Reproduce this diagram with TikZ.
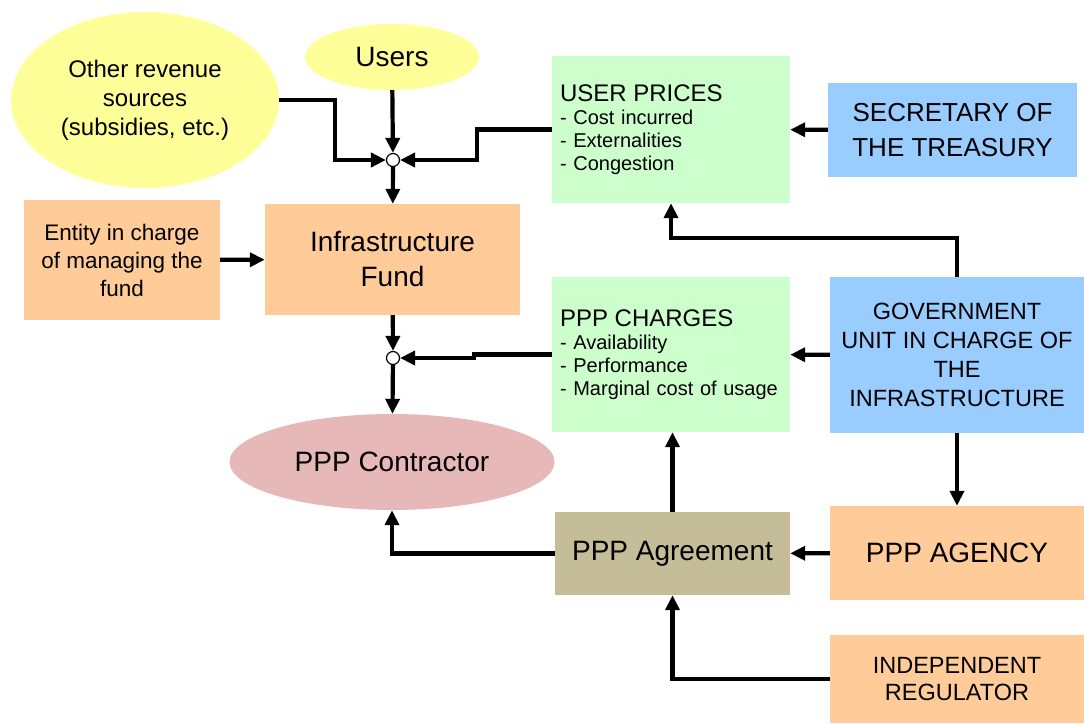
\documentclass[tikz,border=0pt]{standalone}
\usepackage{fontspec}
\setmainfont{Liberation Sans}
\usetikzlibrary{shapes.geometric,arrows.meta}
\definecolor{lemon}{HTML}{FFFF99}
\definecolor{peach}{HTML}{FFCC99}
\definecolor{mint}{HTML}{CCFFCC}
\definecolor{sky}{HTML}{99CCFF}
\definecolor{rose}{HTML}{E6B9B8}
\definecolor{khaki}{HTML}{C4BD97}
\newcommand{\txtbig}{\fontsize{28}{35}\selectfont}
\newcommand{\txtmid}{\fontsize{23.5}{29}\selectfont}
\newcommand{\txtlist}{\fontsize{20}{23}\selectfont}
\tikzset{
 box/.style={shape=rectangle,inner sep=0pt,align=center},
 oval/.style={shape=ellipse,inner sep=0pt,align=center},
 link/.style={-{Triangle[length=15pt,width=14pt]},line width=4.2pt},
 joint/.style={shape=circle,draw,fill=white,line width=1.2pt,minimum size=13pt,inner sep=0pt}
}
\begin{document}
\begin{tikzpicture}[x=1pt,y=-1pt]
\useasboundingbox (0,0) rectangle (1084,723);
\node[oval,fill=lemon,minimum width=268pt,minimum height=176pt,font=\fontsize{24}{29}\selectfont](OR) at (145,100){Other revenue\\sources\\(subsidies, etc.)};
\node[oval,fill=lemon,minimum width=174pt,minimum height=66pt,font=\txtbig](US) at (392,57){Users};
\node[joint](J1) at (393,160){};
\node[box,fill=peach,minimum width=255pt,minimum height=111pt,font=\txtbig](IF) at (392.5,259.5){Infrastructure\\Fund};
\node[box,fill=peach,minimum width=196pt,minimum height=120pt,font=\fontsize{22.5}{28}\selectfont](EN) at (122,260){Entity in charge\\of managing the\\fund};
\node[joint](J2) at (393,358){};
\node[oval,fill=rose,minimum width=325pt,minimum height=96pt,font=\txtbig](CO) at (392,462){PPP Contractor};
\node[box,fill=mint,minimum width=238pt,minimum height=147pt,text width=222pt,align=left,font=\txtlist](UP) at (671,129.5){{\fontsize{24}{28}\selectfont USER PRICES}\\- Cost incurred\\- Externalities\\- Congestion};
\node[box,fill=sky,minimum width=249pt,minimum height=94pt,font=\fontsize{26}{35}\selectfont](SEC) at (952.5,130){SECRETARY OF\\THE TREASURY};
\node[box,fill=mint,minimum width=238pt,minimum height=155pt,text width=222pt,align=left,font=\txtlist](PC) at (671,354.5){{\fontsize{24}{28}\selectfont PPP CHARGES}\\- Availability\\- Performance\\- Marginal cost of usage};
\node[box,fill=sky,minimum width=254pt,minimum height=156pt,font=\txtmid](GOV) at (957,355){GOVERNMENT\\UNIT IN CHARGE OF\\THE\\INFRASTRUCTURE};
\node[box,fill=khaki,minimum width=235pt,minimum height=83pt,font=\txtbig](AG) at (672.5,553.5){PPP Agreement};
\node[box,fill=peach,minimum width=254pt,minimum height=94pt,font=\txtbig](AGY) at (957,553){PPP AGENCY};
\node[box,fill=peach,minimum width=254pt,minimum height=88pt,font=\fontsize{23.5}{27}\selectfont](REG) at (957,679){INDEPENDENT\\REGULATOR};
% revenues into the fund
\draw[link] (OR.east) -- ++(56,0) |- (J1);
\draw[link] (US) -- (J1);
\draw[link] (UP.west) -- ++(-75,0) |- (J1);
\draw[link] (J1) -- (IF);
\draw[link] (EN) -- (IF);
% payments to the contractor
\draw[link] (IF) -- (J2);
\draw[link] (PC.west) -- ++(-78,0) |- (J2);
\draw[link] (J2) -- (CO);
\draw[link] (AG.west) -| (CO.south);
\draw[link] (AG.north) -- (AG.north |- PC.south);
% public side
\draw[link] (SEC) -- (UP);
\draw[link] (GOV) -- (PC);
\draw[link] (GOV.north) -- ++(0,-39) -| (UP.south);
\draw[link] (GOV) -- (AGY);
\draw[link] (AGY) -- (AG);
\draw[link] (REG.west) -| (AG.south);
\end{tikzpicture}
\end{document}
